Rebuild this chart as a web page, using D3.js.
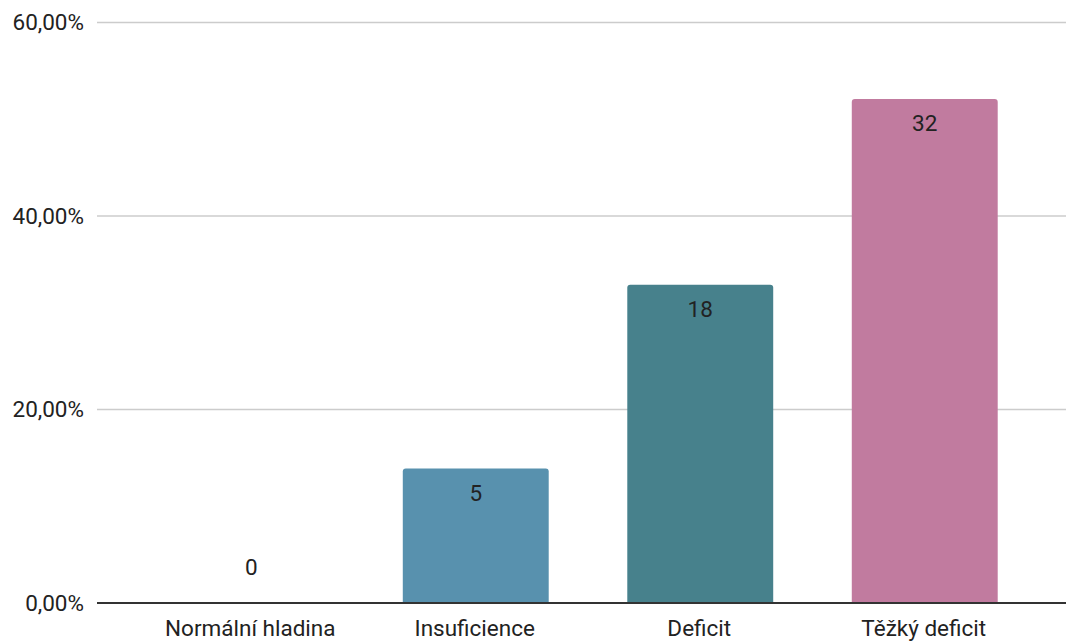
<!DOCTYPE html>
<html><head><meta charset="utf-8">
<script src="https://cdn.jsdelivr.net/npm/d3@7"></script>
<style>html,body{margin:0;padding:0;background:#fff;}svg{display:block;}</style>
</head><body>
<svg id="c" width="1066" height="641"></svg>
<script>
const categories = ["Normální hladina", "Insuficience", "Deficit", "Těžký deficit"];
const percents = [0, 13.9, 32.9, 52.1];
const counts = [0, 5, 18, 32];
const colors = ["#5891ae", "#5891ae", "#47818c", "#c17b9f"];
const yTicks = [0, 20, 40, 60];

const svg = d3.select("#c");
const font = "Roboto, 'Noto Sans', sans-serif";
const fs = 22.5;
const x = d3.scaleBand().domain(categories).range([139, 1037]).paddingInner(0.35).paddingOuter(0.175);
const y = d3.scaleLinear().domain([0, 60]).range([603, 22.5]);
const fmt = v => d3.format(".2f")(v).replace(".", ",") + "%";

// gridlines
svg.append("g").selectAll("line").data(yTicks.filter(t => t > 0)).join("line")
  .attr("x1", 97).attr("x2", 1066)
  .attr("y1", d => y(d)).attr("y2", d => y(d))
  .attr("stroke", "#cccccc").attr("stroke-width", 1.3);

// y labels
svg.append("g").selectAll("text").data(yTicks).join("text")
  .attr("x", 84).attr("y", d => y(d)).attr("dy", "0.35em")
  .attr("text-anchor", "end").attr("font-family", font).attr("font-size", fs)
  .attr("fill", "#222").text(fmt);

// bars
svg.append("g").selectAll("path").data(categories.map((c, i) => ({c, p: percents[i], col: colors[i]})).filter(d => d.p > 0)).join("path")
  .attr("d", d => {
    const x0 = x(d.c), w = x.bandwidth(), y0 = y(d.p), y1 = y(0), r = 3;
    return `M${x0},${y1}V${y0 + r}Q${x0},${y0} ${x0 + r},${y0}H${x0 + w - r}Q${x0 + w},${y0} ${x0 + w},${y0 + r}V${y1}Z`;
  })
  .attr("fill", d => d.col);

// value labels
svg.append("g").selectAll("text").data(categories.map((c, i) => ({c, p: percents[i], n: counts[i]}))).join("text")
  .attr("x", d => x(d.c) + x.bandwidth() / 2)
  .attr("y", d => d.p > 0 ? y(d.p) + 32 : y(0) - 28)
  .attr("text-anchor", "middle").attr("font-family", font).attr("font-size", fs)
  .attr("fill", "#222").text(d => d.n);

// axis baseline
svg.append("line").attr("x1", 97).attr("x2", 1066).attr("y1", y(0)).attr("y2", y(0))
  .attr("stroke", "#333").attr("stroke-width", 2);

// x labels
svg.append("g").selectAll("text").data(categories).join("text")
  .attr("x", d => x(d) + x.bandwidth() / 2 - 1).attr("y", 636)
  .attr("text-anchor", "middle").attr("font-family", font).attr("font-size", fs)
  .attr("fill", "#222").text(d => d);
</script>
</body></html>
